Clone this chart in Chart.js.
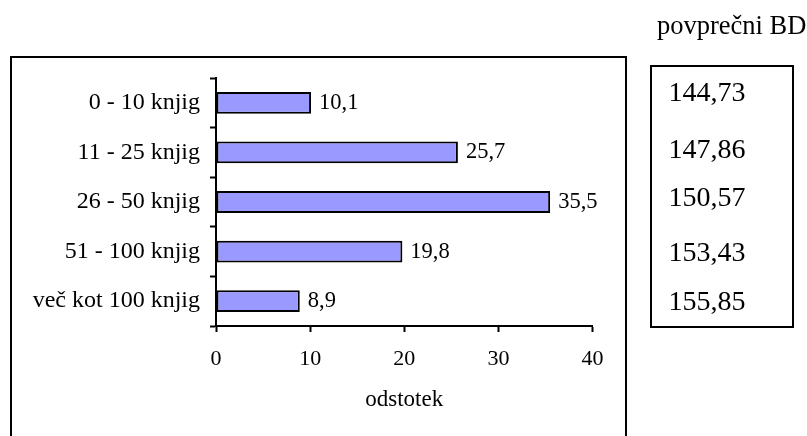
<!DOCTYPE html>
<html><head><meta charset="utf-8">
<script src="https://cdn.jsdelivr.net/npm/chart.js@4"></script>
<style>
html,body{margin:0;padding:0;background:#fff;}
body{width:807px;height:436px;overflow:hidden;position:relative;font-family:'Liberation Serif','Times New Roman',serif;color:#000;}
#frame{position:absolute;left:10px;top:56px;width:617px;height:420px;border:2px solid #000;box-sizing:border-box;}
#panel{position:absolute;left:650px;top:65px;width:144px;height:263px;border:2px solid #000;box-sizing:border-box;}
.t{position:absolute;white-space:nowrap;}
canvas{position:absolute;left:0;top:0;}
</style></head><body>
<div id="frame"></div>
<div id="panel"></div>
<canvas id="c" width="807" height="436"></canvas>
<script>
// ---- data ----
const categories = ['0 - 10 knjig', '11 - 25 knjig', '26 - 50 knjig', '51 - 100 knjig', 'več kot 100 knjig'];
const percentages = [10.1, 25.7, 35.5, 19.8, 8.9];
const avgBD = [144.73, 147.86, 150.57, 153.43, 155.85];
const xTickValues = [0, 10, 20, 30, 40];
const xAxisTitle = 'odstotek';
const panelTitle = 'povprečni BD';

// ---- layout (text positions for side panel) ----
const FONT = "'Liberation Serif','Times New Roman',serif";
const fmt = (v, d) => v.toFixed(d).replace('.', ',');
const rowTops = [77.5, 135, 182.5, 238, 286.5];

function addText(txt, left, top, size) {
  const d = document.createElement('div');
  d.className = 't';
  d.textContent = txt;
  d.style.left = left + 'px';
  d.style.top = top + 'px';
  d.style.fontSize = size + 'px';
  d.style.lineHeight = size + 'px';
  document.body.appendChild(d);
}
addText(panelTitle, 657, 12, 26.5);
avgBD.forEach((v, i) => addText(fmt(v, 2), 668.5, rowTops[i], 28));

const valueLabels = {
  id: 'valueLabels',
  afterDatasetsDraw(chart) {
    const ctx = chart.ctx;
    const meta = chart.getDatasetMeta(0);
    ctx.save();
    ctx.font = '22.5px ' + FONT;
    ctx.fillStyle = '#000';
    ctx.textAlign = 'left';
    ctx.textBaseline = 'middle';
    meta.data.forEach((bar, i) => {
      ctx.fillText(fmt(chart.data.datasets[0].data[i], 1), bar.x + 8, bar.y);
    });
    ctx.restore();
  }
};

new Chart(document.getElementById('c'), {
  type: 'bar',
  data: {
    labels: categories,
    datasets: [{
      data: percentages,
      backgroundColor: '#9999FF',
      borderColor: '#000',
      borderWidth: 2,
      borderSkipped: false,
      barPercentage: 0.44,
      categoryPercentage: 1
    }]
  },
  options: {
    indexAxis: 'y',
    responsive: false,
    animation: false,
    events: [],
    layout: { padding: { left: 0, top: 78, right: 214.5, bottom: 0 } },
    plugins: { legend: { display: false }, tooltip: { enabled: false } },
    scales: {
      x: {
        min: xTickValues[0],
        max: xTickValues[xTickValues.length - 1],
        afterBuildTicks(s) { s.ticks = xTickValues.map(v => ({ value: v })); },
        ticks: { color: '#000', font: { family: FONT, size: 22 }, padding: 14, maxRotation: 0,
                 callback: v => String(v) },
        grid: { drawOnChartArea: false, drawTicks: true, tickLength: 6, tickColor: '#000', tickWidth: 2 },
        border: { display: true, color: '#000', width: 2 },
        title: { display: true, text: xAxisTitle, color: '#000', font: { family: FONT, size: 23 },
                 padding: { top: 0, bottom: 22 } },
        afterFit(s) { s.height = 110; s.paddingLeft = 0; s.paddingRight = 0; }
      },
      y: {
        offset: true,
        ticks: { color: '#000', font: { family: FONT, size: 24 }, padding: 10 },
        grid: { offset: true, drawOnChartArea: false, drawTicks: true, tickLength: 6, tickColor: '#000', tickWidth: 2 },
        border: { display: true, color: '#000', width: 2 },
        afterFit(s) { s.width = 216; s.paddingTop = 0; s.paddingBottom = 0; }
      }
    }
  },
  plugins: [valueLabels]
});
</script>
</body></html>
